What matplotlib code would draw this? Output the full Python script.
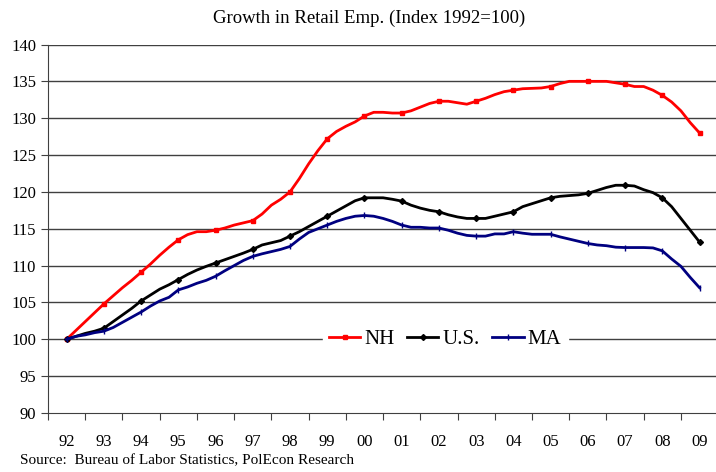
import numpy as np
import matplotlib
matplotlib.use("Agg")
import matplotlib.pyplot as plt

# quarterly positions, 1992 through 2009
quarters = np.arange(1992, 2009.01, 0.25)
year_labels = ['92', '93', '94', '95', '96', '97', '98', '99', '00',
               '01', '02', '03', '04', '05', '06', '07', '08', '09']

nh = [100, 101.2, 102.4, 103.6,
      104.8, 105.9, 107.0, 108.0,
      109.1, 110.2, 111.4, 112.5,
      113.5, 114.2, 114.6, 114.6,
      114.8, 115.1, 115.5, 115.8,
      116.1, 117.0, 118.2, 119.0,
      120.0, 121.8, 123.8, 125.6,
      127.2, 128.2, 128.9, 129.5,
      130.3, 130.8, 130.8, 130.7,
      130.7, 131.0, 131.5, 132.0,
      132.3, 132.3, 132.1, 131.9,
      132.3, 132.7, 133.2, 133.6,
      133.8, 134.0, 134.05, 134.1,
      134.3, 134.7, 135.0, 135.0,
      135.0, 135.0, 135.0, 134.8,
      134.6, 134.3, 134.3, 133.8,
      133.1, 132.2, 131.0, 129.4,
      128.0]

us = [100, 100.4, 100.8, 101.1,
      101.5, 102.4, 103.3, 104.2,
      105.2, 106.0, 106.8, 107.4,
      108.1, 108.8, 109.4, 109.9,
      110.35, 110.8, 111.25, 111.7,
      112.2, 112.8, 113.1, 113.4,
      114.0, 114.6, 115.3, 116.0,
      116.7, 117.4, 118.1, 118.8,
      119.2, 119.2, 119.2, 119.0,
      118.75, 118.2, 117.8, 117.5,
      117.3, 116.9, 116.6, 116.4,
      116.4, 116.4, 116.7, 117.0,
      117.3, 118.0, 118.4, 118.8,
      119.2, 119.4, 119.5, 119.6,
      119.8, 120.2, 120.6, 120.9,
      120.9, 120.8, 120.3, 119.9,
      119.2, 118.0, 116.4, 114.8,
      113.2]

ma = [100, 100.4, 100.6, 100.9,
      101.1, 101.6, 102.3, 103.0,
      103.7, 104.5, 105.2, 105.7,
      106.7, 107.1, 107.6, 108.0,
      108.55, 109.3, 110.0, 110.7,
      111.25, 111.6, 111.9, 112.2,
      112.6, 113.6, 114.5, 115.0,
      115.5, 116.0, 116.4, 116.7,
      116.8, 116.7, 116.4, 116.0,
      115.5, 115.2, 115.2, 115.1,
      115.1, 114.8, 114.4, 114.1,
      114.0, 114.0, 114.3, 114.3,
      114.6, 114.4, 114.25, 114.25,
      114.25, 113.9, 113.6, 113.3,
      113.0, 112.8, 112.7, 112.5,
      112.45, 112.45, 112.45, 112.4,
      112.0, 110.9, 109.9, 108.4,
      107.0]

plt.rcParams['font.family'] = ['Liberation Serif', 'DejaVu Serif']

fig = plt.figure(figsize=(7.16, 4.72), dpi=100)
ax = fig.add_axes([48/716, 1 - 413/472, 1 - 48/716 + 0.003, (413 - 44.5)/472])

for y in range(95, 141, 5):
    ax.axhline(y, color='#404040', lw=1, zorder=1)

ax.plot(quarters, nh, color='#ff0000', lw=2, marker='s', ms=3, markevery=4, label='NH', zorder=3)
ax.plot(quarters, us, color='black', lw=2, marker='D', ms=3, markevery=4, label='U.S.', zorder=3)
ax.plot(quarters, ma, color='#000080', lw=2, marker='|', ms=4, mew=1, markevery=4, label='MA', zorder=3)

ax.set_xlim(1991.5, 2009.5)
ax.set_ylim(90, 140)
ax.set_yticks(range(90, 141, 5))
ax.set_xticks(np.arange(1991.5, 2009.6, 1))
ax.set_xticklabels([])
ax.set_xticks(np.arange(1992, 2009.1, 1), minor=True)
ax.set_xticklabels(year_labels, minor=True)
ax.tick_params(axis='x', which='major', direction='out', length=5, color='#404040')
ax.tick_params(axis='x', which='minor', length=0, pad=15, labelsize=12)
ax.tick_params(axis='y', direction='out', length=5, color='#404040', labelsize=12)

for s in ['top', 'right']:
    ax.spines[s].set_visible(False)
for s in ['left', 'bottom']:
    ax.spines[s].set_color('#404040')

leg = ax.legend(loc='center', bbox_to_anchor=((444 - 48)/668, (413 - 339.3)/368.5),
                ncol=3, frameon=True, fontsize=15, handlelength=1.5,
                handletextpad=0.2, columnspacing=0.6, borderpad=0.3)
leg.get_frame().set_edgecolor('white')
leg.get_frame().set_facecolor('white')
leg.get_frame().set_alpha(1)
leg.set_zorder(5)

fig.text(0.515, 1 - 18/472, 'Growth in Retail Emp. (Index 1992=100)',
         ha='center', va='center', fontsize=13.5)
fig.text(20/716, 1 - 461/472, 'Source:  Bureau of Labor Statistics, PolEcon Research',
         ha='left', va='center', fontsize=11)

fig.savefig('out.png', dpi=100)
